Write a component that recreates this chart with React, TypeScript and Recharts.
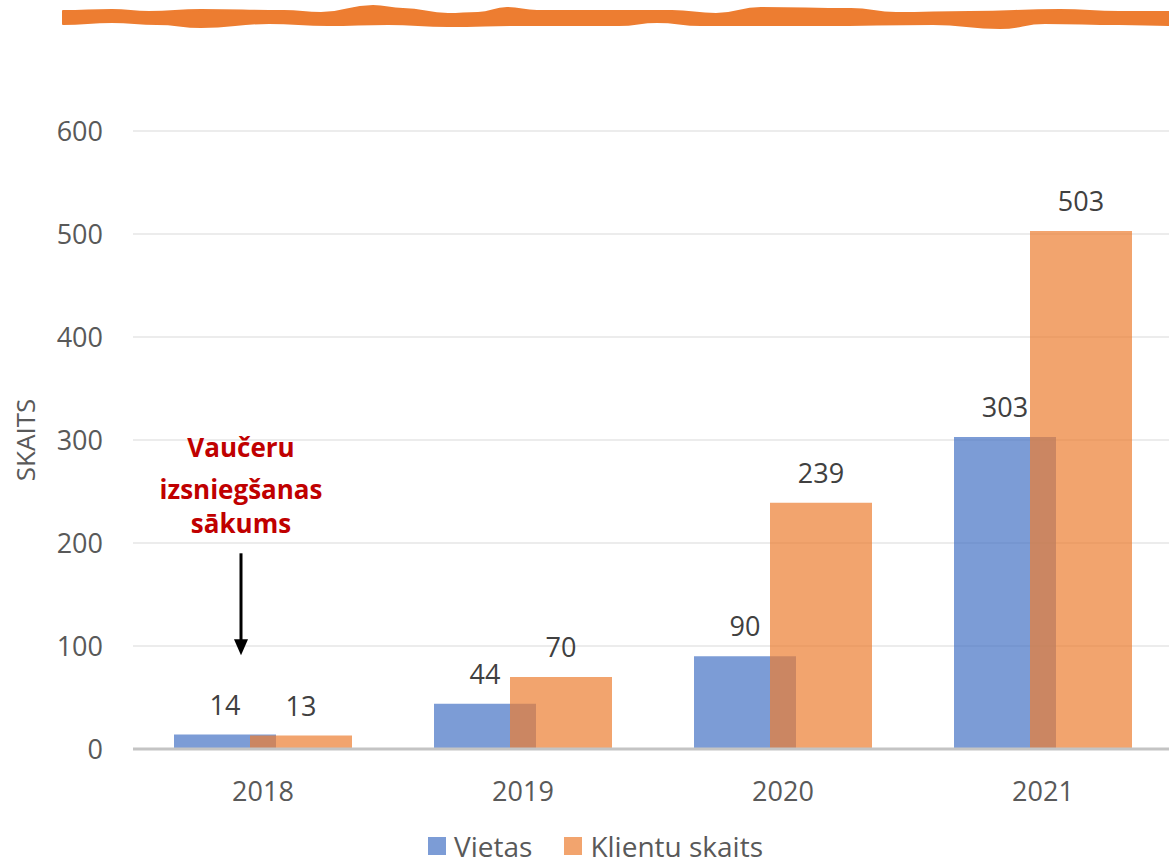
import React from 'react';
import {
  BarChart,
  Bar,
  XAxis,
  YAxis,
  CartesianGrid,
  Legend,
  LabelList,
  ReferenceLine,
} from 'recharts';

const years = ['2018', '2019', '2020', '2021'];
const vietas = [14, 44, 90, 303];
const klienti = [13, 70, 239, 503];
const yTicks = [0, 100, 200, 300, 400, 500, 600];

const data = years.map((y, i) => ({ year: y, vietas: vietas[i], klienti: klienti[i] }));

const FONT = '"Open Sans", sans-serif';
const BLUE = '#4472C4';
const ORANGE = '#ED7D31';

// brush stroke at the top of the slide
const waveTop = [
  [63, 11], [112, 10], [149, 12], [201, 10], [284, 11], [321, 13], [373, 6], [403, 9],
  [448, 14], [478, 13], [507, 8], [537, 11], [672, 11], [716, 14], [761, 8], [851, 9],
  [896, 13], [970, 12], [1060, 10], [1119, 12], [1172, 12],
];
const waveBottom = [
  [1172, 25], [1119, 24], [1045, 23], [1000, 28], [933, 24], [821, 25], [701, 25], [657, 22],
  [619, 25], [522, 25], [448, 26], [388, 24], [328, 25], [269, 23], [201, 27], [157, 24],
  [112, 22], [63, 24],
];

const smoothPath = (pts: number[][]) => {
  let d = `M${pts[0][0]},${pts[0][1]}`;
  for (let i = 1; i < pts.length; i++) {
    const [x0, y0] = pts[i - 1];
    const [x1, y1] = pts[i];
    const mx = (x0 + x1) / 2;
    d += ` C${mx},${y0} ${mx},${y1} ${x1},${y1}`;
  }
  return d;
};

const BrushStroke = () => {
  const top = smoothPath(waveTop);
  const bottom = smoothPath(waveBottom).replace(/^M/, 'L');
  return (
    <svg width={1169} height={40} style={{ position: 'absolute', left: 0, top: 0 }}>
      <path
        d={`${top} ${bottom} Z`}
        fill={ORANGE}
        stroke={ORANGE}
        strokeWidth={2}
        strokeLinejoin="round"
      />
    </svg>
  );
};

const AnnotationArrow = (props: any) => {
  const { x1, y1, y2 } = props;
  const x = x1 - 22;
  const headLen = 16;
  return (
    <g>
      <text
        x={x}
        textAnchor="middle"
        fill="#C00000"
        fontFamily={FONT}
        fontWeight={700}
        fontSize={26}
      >
        <tspan x={x} y={y1 - 96}>Vaučeru</tspan>
        <tspan x={x} y={y1 - 54}>izsniegšanas</tspan>
        <tspan x={x} y={y1 - 20}>sākums</tspan>
      </text>
      <line x1={x} y1={y1} x2={x} y2={y2 - headLen + 2} stroke="#000" strokeWidth={3} />
      <polygon points={`${x - 7},${y2 - headLen} ${x + 7},${y2 - headLen} ${x},${y2}`} fill="#000" />
    </g>
  );
};

const LegendContent = () => (
  <div
    style={{
      display: 'flex',
      alignItems: 'center',
      paddingLeft: 428,
      paddingTop: 22,
      height: 40,
      fontFamily: FONT,
      fontSize: 28,
      color: '#595959',
      lineHeight: '30px',
    }}
  >
    <span style={{ width: 18, height: 18, background: BLUE, opacity: 0.7, marginRight: 8 }} />
    <span style={{ marginRight: 32 }}>Vietas</span>
    <span style={{ width: 18, height: 18, background: ORANGE, opacity: 0.7, marginRight: 8 }} />
    <span>Klientu skaits</span>
  </div>
);

export default function App() {
  return (
    <div style={{ position: 'relative', width: 1169, height: 866, overflow: 'hidden', background: '#fff' }}>
      <style>{'body{margin:0}'}</style>
      <BrushStroke />
      <div style={{ position: 'absolute', left: 0, top: 0 }}>
        <BarChart
          width={1173}
          height={866}
          data={data}
          barGap={-26}
          margin={{ top: 131, right: 0, left: 0, bottom: 0 }}
        >
          <CartesianGrid vertical={false} stroke="#ececec" strokeWidth={2} />
          <XAxis
            dataKey="year"
            height={55}
            tickSize={0}
            tickMargin={33}
            axisLine={{ stroke: '#c4c4c4', strokeWidth: 3 }}
            tick={{ fontSize: 27, fill: '#595959', fontFamily: FONT }}
          />
          <YAxis
            width={133}
            domain={[0, 600]}
            ticks={yTicks}
            tickSize={0}
            tickMargin={30}
            axisLine={false}
            tick={{ fontSize: 27, fill: '#595959', fontFamily: FONT }}
            label={{
              value: 'SKAITS',
              angle: -90,
              position: 'insideLeft',
              dx: 21,
              style: { fontSize: 26, fill: '#595959', fontFamily: FONT, textAnchor: 'middle' },
            }}
          />
          <Legend verticalAlign="bottom" content={<LegendContent />} />
          <Bar dataKey="vietas" name="Vietas" fill={BLUE} fillOpacity={0.7} barSize={102} isAnimationActive={false}>
            <LabelList dataKey="vietas" position="top" offset={20} fill="#404040" fontSize={27} fontFamily={FONT} />
          </Bar>
          <Bar dataKey="klienti" name="Klientu skaits" fill={ORANGE} fillOpacity={0.7} barSize={102} isAnimationActive={false}>
            <LabelList dataKey="klienti" position="top" offset={20} fill="#404040" fontSize={27} fontFamily={FONT} />
          </Bar>
          <ReferenceLine
            segment={[{ x: '2018', y: 190 }, { x: '2018', y: 91 }]}
            shape={AnnotationArrow}
          />
        </BarChart>
      </div>
    </div>
  );
}
